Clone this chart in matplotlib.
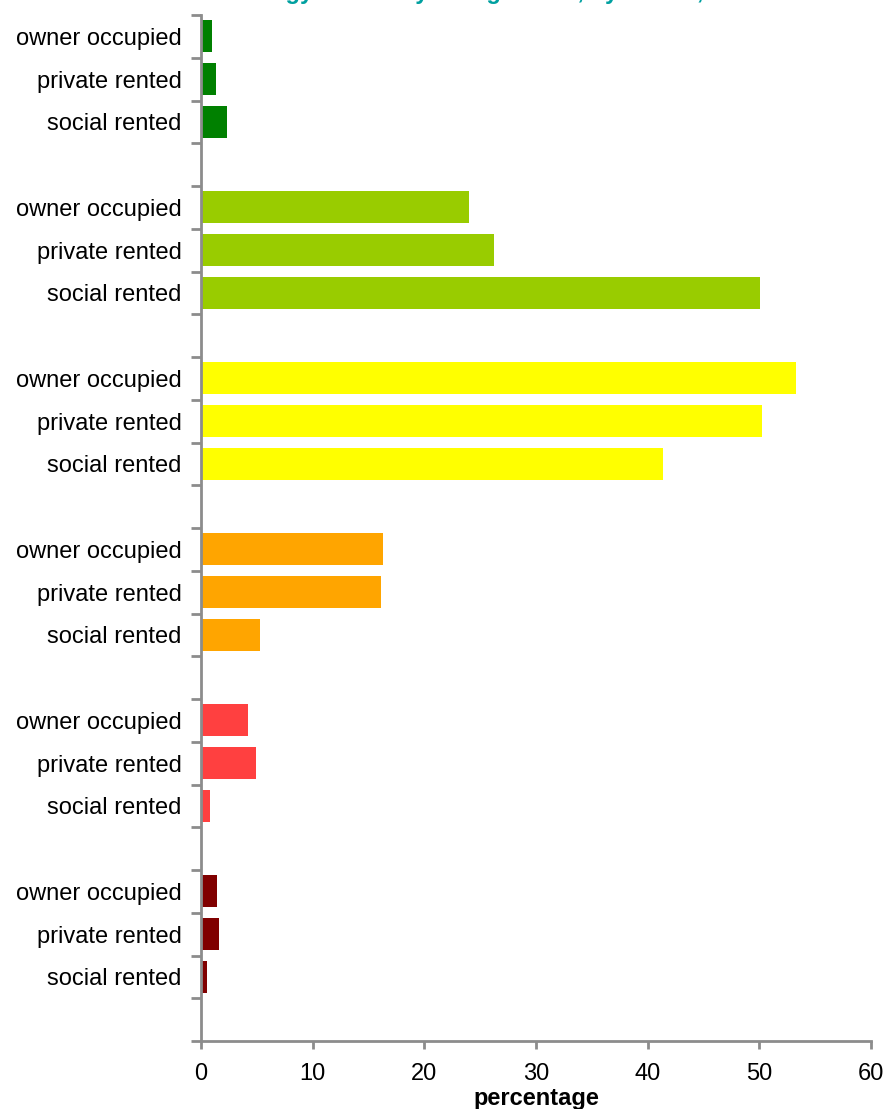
import matplotlib
matplotlib.use('Agg')
import matplotlib.pyplot as plt

# --- Data ---
TITLE = "Energy efficiency rating bands, by tenure, 2011"
TENURES = ["owner occupied", "private rented", "social rented"]
BAND_COLORS = ["#008000", "#99CC00", "#FFFF00", "#FFA500", "#FF4040", "#800000"]
owner_occupied = [1.0, 24.0, 53.3, 16.3, 4.2, 1.4]
private_rented = [1.3, 26.2, 50.2, 16.1, 4.9, 1.6]
social_rented = [2.3, 50.1, 41.4, 5.3, 0.8, 0.5]
X_TICKS = [0, 10, 20, 30, 40, 50, 60]

plt.rcParams['font.family'] = ['Liberation Sans', 'DejaVu Sans']

W, H = 888, 1109
fig = plt.figure(figsize=(W / 100, H / 100), dpi=100)
ax = fig.add_axes([201 / W, 1 - 1041 / H, (871 - 201) / W, (1041 - 15) / H])

# each band takes 4 slots: 3 tenures + an empty gap
positions, values, colors, labels = [], [], [], []
for g, col in enumerate(BAND_COLORS):
    for t, series in enumerate([owner_occupied, private_rented, social_rented]):
        positions.append(4 * g + t)
        values.append(series[g])
        colors.append(col)
        labels.append(TENURES[t])

n_slots = 4 * len(BAND_COLORS)
ax.barh(positions, values, height=0.75, color=colors)

ax.set_ylim(n_slots - 0.5, -0.5)
ax.set_xlim(0, 60)

grey = "#8c8c8c"
for s in ["top", "right"]:
    ax.spines[s].set_visible(False)
for s in ["left", "bottom"]:
    ax.spines[s].set_color(grey)
    ax.spines[s].set_linewidth(2)

ax.set_yticks(positions)
ax.set_yticklabels(labels, fontsize=17)
ax.set_yticks([i - 0.5 for i in range(n_slots + 1)], minor=True)
ax.tick_params(axis='y', which='major', length=0, pad=14)
ax.tick_params(axis='y', which='minor', length=7, width=2, color=grey, direction='out')

ax.set_xticks(X_TICKS)
ax.set_xticklabels([str(v) for v in X_TICKS], fontsize=17)
ax.tick_params(axis='x', length=6, width=2, color=grey, direction='out', pad=10)
ax.set_xlabel("percentage", fontsize=17, fontweight='bold', labelpad=1)

# title is mostly cropped off the top in the reference
fig.text(0.56, 1 + 1 / H, TITLE, ha='center', va='baseline',
         fontsize=17, fontweight='bold', color="#00A0A0")

fig.savefig("out.png", dpi=100)
